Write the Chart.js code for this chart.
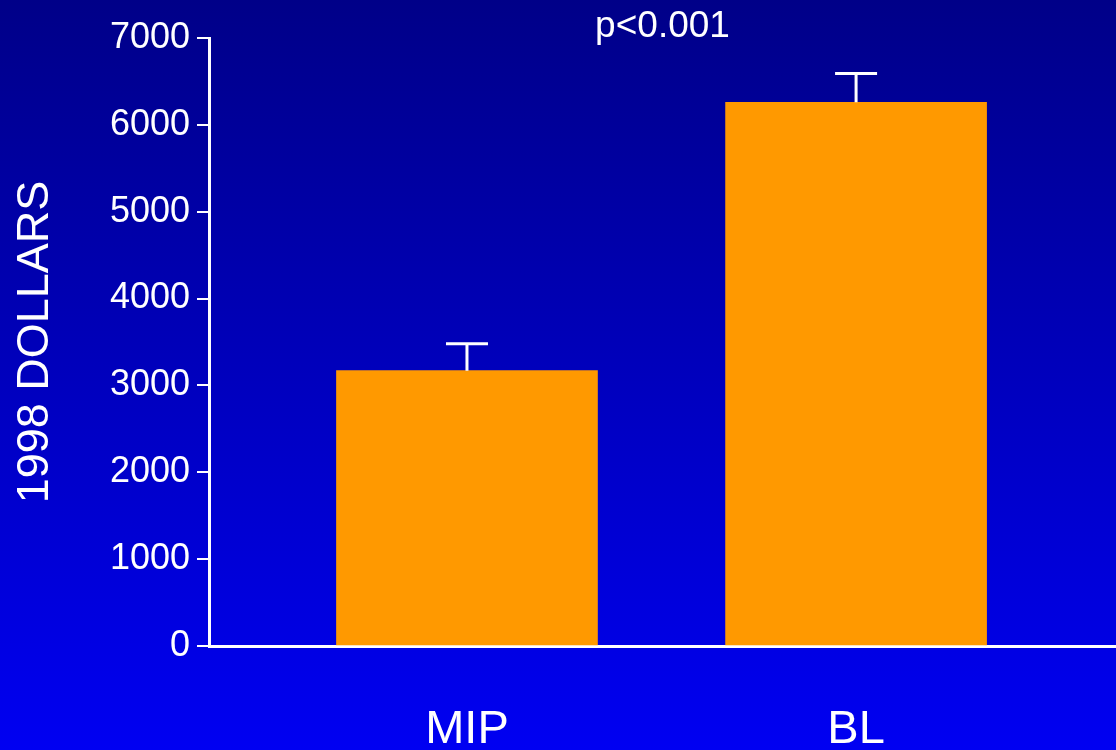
<!DOCTYPE html>
<html>
<head>
<meta charset="utf-8">
<script src="https://cdn.jsdelivr.net/npm/chart.js@4"></script>
<style>
    html, body { margin: 0; padding: 0; }
    body {
        width: 1116px; height: 750px; overflow: hidden;
        background: linear-gradient(to bottom, #000088 0%, #0000f2 100%);
    }
    #chart { display: block; }
</style>
</head>
<body>
<canvas id="chart" width="1116" height="750"></canvas>
<script>
// data
var categories = ['MIP', 'BL'];
var costs = [3170, 6260];
var errorTops = [3480, 6590];
var yTicks = [0, 1000, 2000, 3000, 4000, 5000, 6000, 7000];
var pLabel = 'p<0.001';

var FONT = "'Liberation Sans', Arial, Helvetica, sans-serif";

// error bars drawn upward from each bar
var errorBars = {
    id: 'errorBars',
    afterDatasetsDraw: function (chart) {
        var ctx = chart.ctx;
        var meta = chart.getDatasetMeta(0);
        var yScale = chart.scales.y;
        ctx.save();
        ctx.strokeStyle = '#ffffff';
        ctx.lineWidth = 3;
        meta.data.forEach(function (bar, i) {
            var yTop = yScale.getPixelForValue(errorTops[i]);
            ctx.beginPath();
            ctx.moveTo(bar.x, bar.y);
            ctx.lineTo(bar.x, yTop);
            ctx.moveTo(bar.x - 21, yTop);
            ctx.lineTo(bar.x + 21, yTop);
            ctx.stroke();
        });
        ctx.restore();
    }
};

// significance label above the plot
var pText = {
    id: 'pText',
    afterDraw: function (chart) {
        var ctx = chart.ctx;
        var area = chart.chartArea;
        ctx.save();
        ctx.fillStyle = '#ffffff';
        ctx.font = '37px ' + FONT;
        ctx.textAlign = 'center';
        ctx.textBaseline = 'middle';
        ctx.fillText(pLabel, (area.left + area.right) / 2, 27);
        ctx.restore();
    }
};

var ctx = document.getElementById('chart').getContext('2d');
var chart = new Chart(ctx, {
    type: 'bar',
    data: {
        datasets: [{
            data: costs.map(function (v, i) { return { x: i, y: v }; }),
            backgroundColor: '#ff9900',
            borderWidth: 0,
            barThickness: 261
        }]
    },
    options: {
        responsive: false,
        animation: false,
        devicePixelRatio: 1,
        layout: { padding: { top: 38, right: 0, left: 0, bottom: 0 } },
        plugins: {
            legend: { display: false },
            tooltip: { enabled: false }
        },
        scales: {
            x: {
                type: 'linear',
                offset: false,
                min: -0.663,
                max: 1.668,
                afterBuildTicks: function (scale) {
                    scale.ticks = categories.map(function (c, i) { return { value: i }; });
                },
                afterFit: function (scale) { scale.height = 104; },
                grid: { display: false, drawTicks: false, offset: false },
                border: { display: true, color: '#ffffff', width: 3 },
                ticks: {
                    color: '#ffffff',
                    font: { family: FONT, size: 47 },
                    padding: 56,
                    maxRotation: 0,
                    callback: function (v) { return categories[v]; }
                }
            },
            y: {
                min: 0,
                max: 7000,
                afterBuildTicks: function (scale) {
                    scale.ticks = yTicks.map(function (v) { return { value: v }; });
                },
                afterFit: function (scale) { scale.width = 209; },
                grid: {
                    drawOnChartArea: false,
                    color: '#ffffff',
                    lineWidth: 2,
                    tickLength: 12
                },
                border: { display: true, color: '#ffffff', width: 3 },
                ticks: {
                    color: '#ffffff',
                    font: { family: FONT, size: 36 },
                    padding: 7,
                    callback: function (v) { return String(v); }
                },
                title: {
                    display: true,
                    text: '1998 DOLLARS',
                    color: '#ffffff',
                    font: { family: FONT, size: 45 },
                    padding: { top: 9, bottom: 0 }
                }
            }
        }
    },
    plugins: [errorBars, pText]
});
</script>
</body>
</html>
